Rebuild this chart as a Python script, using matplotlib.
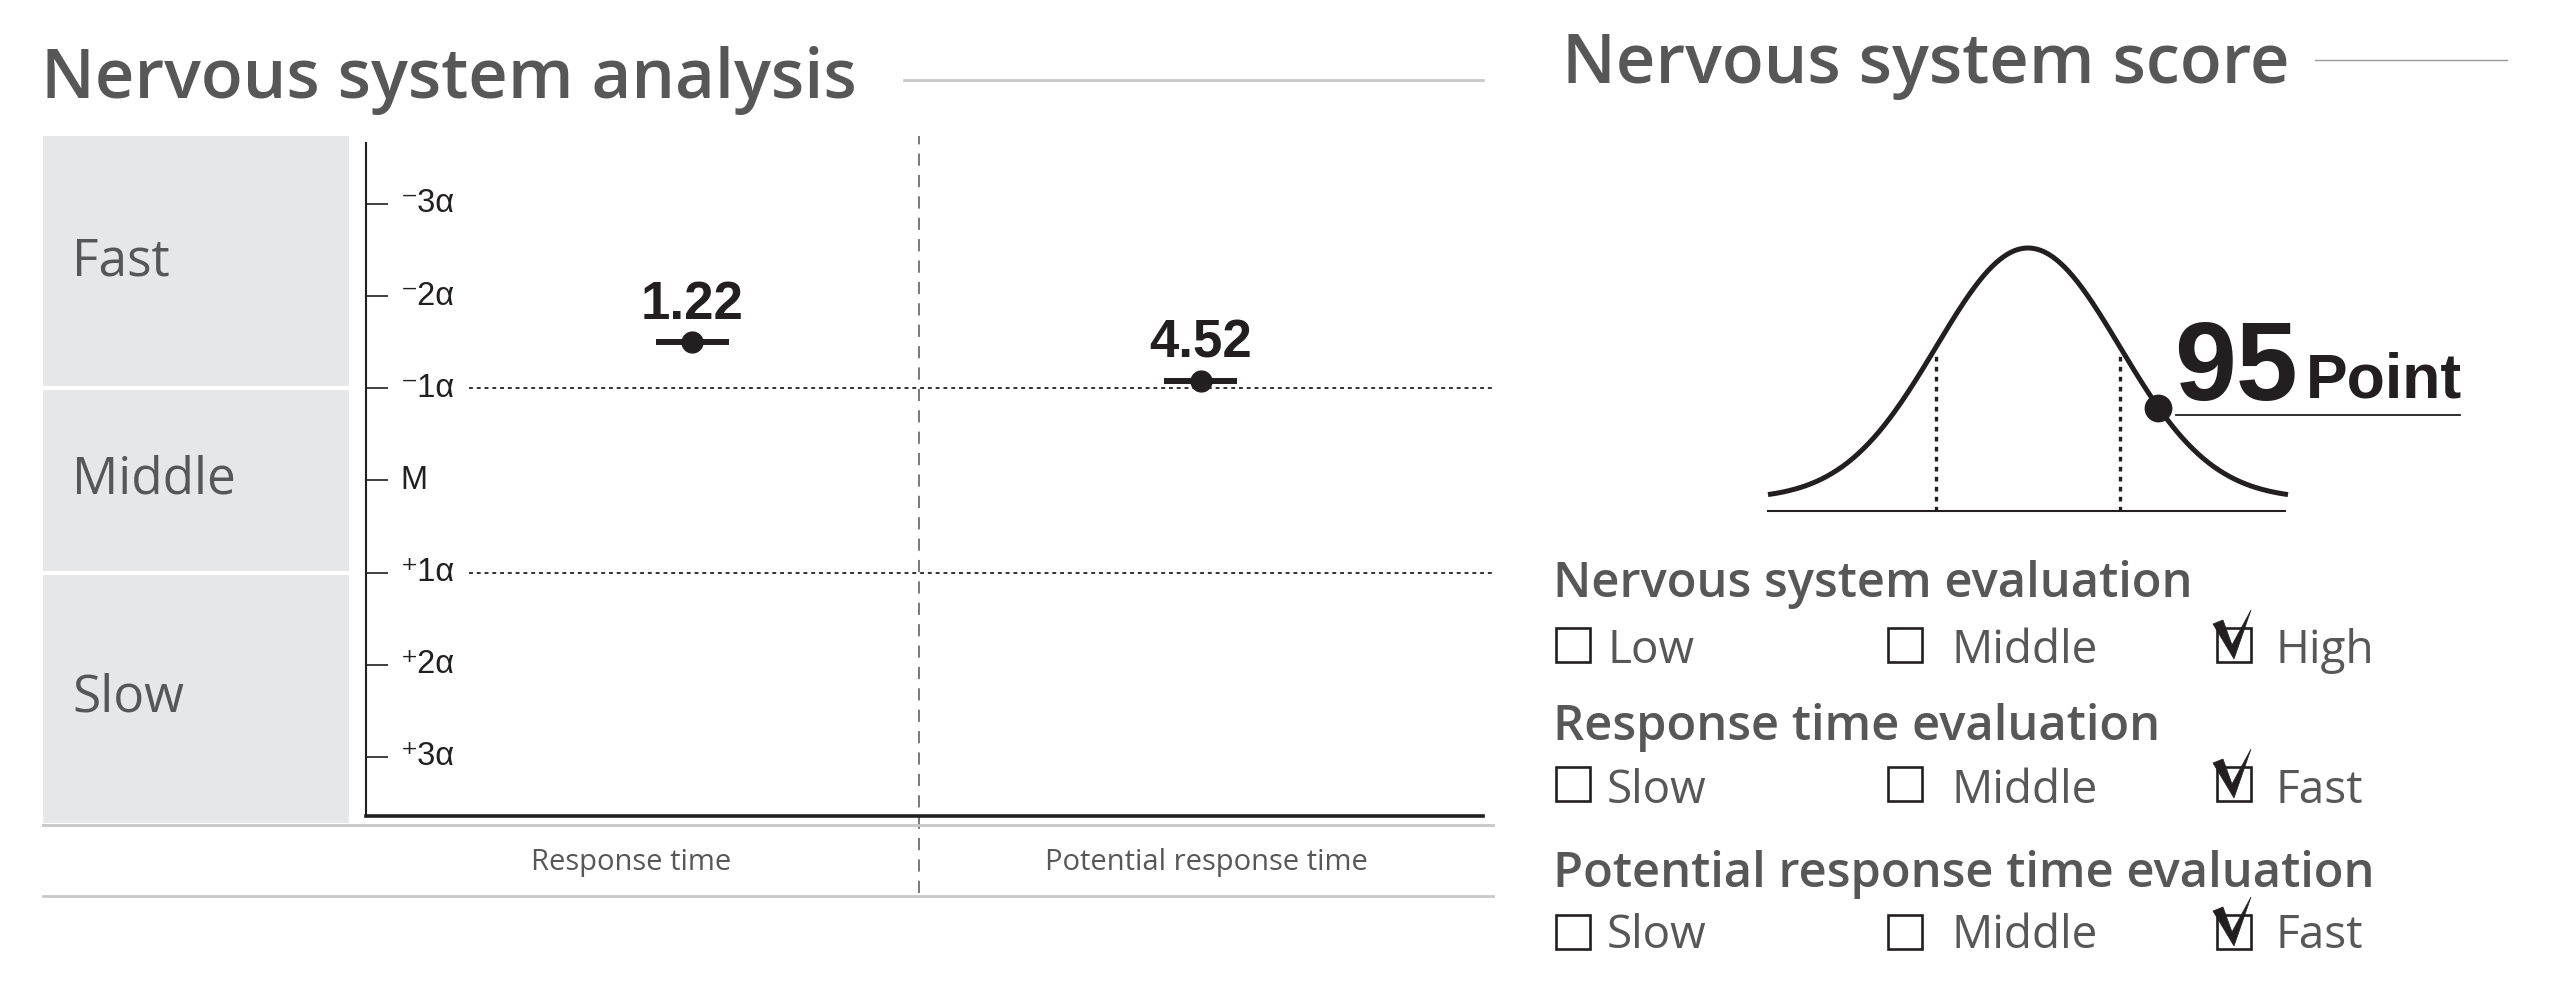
import numpy as np
import matplotlib
matplotlib.use("Agg")
import matplotlib.pyplot as plt
from matplotlib.lines import Line2D
from matplotlib.patches import Rectangle, Polygon
import matplotlib.transforms as mtrans

# ---------------- data ----------------
metric_names = ["Response time", "Potential response time"]
metric_values = [1.22, 4.52]
metric_sigma = [-1.50, -1.08]
sigma_ticks = [-3, -2, -1, 0, 1, 2, 3]
sigma_tick_labels = ["\u207b3\u03b1", "\u207b2\u03b1", "\u207b1\u03b1", "M",
                     "\u207a1\u03b1", "\u207a2\u03b1", "\u207a3\u03b1"]
band_names = ["Fast", "Middle", "Slow"]
band_edges = [-1, 1]
score_value = 95
score_unit = "Point"
score_z = 1.42
eval_titles = ["Nervous system evaluation", "Response time evaluation",
               "Potential response time evaluation"]
eval_options = [["Low", "Middle", "High"], ["Slow", "Middle", "Fast"],
                ["Slow", "Middle", "Fast"]]
eval_checked = [2, 2, 2]

# ---------------- layout helpers ----------------
W, H = 2552, 986
fig = plt.figure(figsize=(W / 100, H / 100), dpi=100)
fig.patch.set_facecolor("white")


def fx(px):
    return px / W


def fy(py):
    return 1 - py / H


GRAY_TXT = "#575757"
INK = "#231f20"
SANS = ["Open Sans", "DejaVu Sans"]
ARIAL = ["Liberation Sans", "DejaVu Sans"]

# ---------------- titles ----------------
fig.text(fx(41), fy(98), "Nervous system analysis", fontsize=49.5, fontweight="semibold",
         color=GRAY_TXT, family=SANS, va="baseline", ha="left")
fig.add_artist(Line2D([fx(904), fx(1483)], [fy(80), fy(80)], color="#c8c8c8", lw=2))
fig.text(fx(1562), fy(83), "Nervous system score", fontsize=49.5, fontweight="semibold",
         color=GRAY_TXT, family=SANS, va="baseline", ha="left")
fig.add_artist(Line2D([fx(2315), fx(2507)], [fy(60), fy(60)], color="#9a9a9a", lw=1))

# ---------------- band column ----------------
lax = fig.add_axes([fx(43), fy(823), (349 - 43) / W, (823 - 136) / H])
lax.set_xlim(0, 1)
lax.set_ylim(3.72, -3.74)
lax.axis("off")
bounds = [-3.74] + band_edges + [3.72]
for i, name in enumerate(band_names):
    lax.axhspan(bounds[i], bounds[i + 1], color="#e6e7e8", lw=0)
    lax.text(0.095, (bounds[i] + bounds[i + 1]) / 2, name, fontsize=37, color=GRAY_TXT,
             family=SANS, va="center", ha="left")
for e in band_edges:
    lax.axhline(e, color="white", lw=3)

# ---------------- main axes ----------------
ax = fig.add_axes([fx(366), fy(816), (1483 - 366) / W, (816 - 143) / H])
ax.set_xlim(0, 2.02)
ax.set_ylim(3.64, -3.66)
ax.patch.set_alpha(0)
for s in ["top", "right"]:
    ax.spines[s].set_visible(False)
ax.spines["left"].set_linewidth(1.5)
ax.spines["left"].set_color(INK)
ax.spines["bottom"].set_linewidth(2.6)
ax.spines["bottom"].set_color(INK)
ax.set_xticks([])
ax.set_yticks(sigma_ticks)
ax.tick_params(axis="y", direction="in", length=16, width=1.2, color=INK, labelleft=False)
ty = mtrans.blended_transform_factory(ax.transAxes, ax.transData)
for t, lab in zip(sigma_ticks, sigma_tick_labels):
    ax.text(0.031, t, lab, transform=ty, fontsize=23.5, family=ARIAL, va="center",
            ha="left", color=INK)

for e in band_edges:
    ax.axhline(e, xmin=0.092, xmax=1.009, color="#333333", lw=1.4, ls=(0, (2, 2)),
               clip_on=False)
ax.axvline(1.0, ymin=-0.114, ymax=1.0104, color="#555555", lw=1.1, ls=(0, (8, 6)),
           clip_on=False)

fig.add_artist(Line2D([fx(43), fx(1493)], [fy(825), fy(825)], color="#c8c8c8", lw=2))
fig.add_artist(Line2D([fx(43), fx(1493)], [fy(896), fy(896)], color="#c8c8c8", lw=2))

metric_x = [0.59, 1.51]
label_x = [0.48, 1.52]
tx = mtrans.blended_transform_factory(ax.transData, ax.transAxes)
for xl, name in zip(label_x, metric_names):
    ax.text(xl, -0.0698, name, transform=tx, fontsize=21, color=GRAY_TXT, family=SANS,
            ha="center", va="center", clip_on=False)

ax.errorbar(metric_x, metric_sigma, xerr=0.066, fmt="o", color=INK, ms=15,
            elinewidth=4.3, capsize=0)
for xm, s, v in zip(metric_x, metric_sigma, metric_values):
    ax.annotate(f"{v:.2f}", (xm, s), xytext=(0, 16.6), textcoords="offset points",
                ha="center", va="baseline", fontsize=38, fontweight="bold",
                family=ARIAL, color=INK)

# ---------------- bell curve ----------------
bax = fig.add_axes([fx(1768), fy(511), 520 / W, (511 - 248) / H])
bax.set_xlim(-2.83, 2.83)
bax.set_ylim(0, 1)
bax.axis("off")
floor = 0.045
zz = np.linspace(-2.83, 2.83, 400)
curve = floor + (1 - floor) * np.exp(-zz ** 2 / 2)
bax.plot(zz, curve, color=INK, lw=3.6, clip_on=False, solid_capstyle="butt")
bax.plot([-2.83, 2.80], [0, 0], color=INK, lw=1.5, clip_on=False)
for zline in [-1, 1]:
    top = floor + (1 - floor) * np.exp(-zline ** 2 / 2)
    bax.plot([zline, zline], [0, top - 0.02], color=INK, lw=2.4, ls=(0, (1.4, 1.6)),
             clip_on=False)
sy = floor + (1 - floor) * np.exp(-score_z ** 2 / 2)
bax.plot([score_z], [sy], "o", color=INK, ms=19, clip_on=False)

fig.text(fx(2174), fy(400), f"{score_value}", fontsize=80, fontweight="bold", family=ARIAL,
         color=INK, ha="left", va="baseline")
fig.text(fx(2306), fy(398), score_unit, fontsize=45, fontweight="bold", family=ARIAL,
         color=INK, ha="left", va="baseline")
fig.add_artist(Line2D([fx(2176), fx(2460)], [fy(415), fy(415)], color=INK, lw=1.3))

# ---------------- evaluation checkboxes ----------------
head_base = [597, 740, 887]
box_top = [628, 767, 915]
opt_base = [663, 803, 948]
box_x = [1556, 1888, 2217]
txt_x = [1607, 1951, 2275]
BOX = 34
for i, title in enumerate(eval_titles):
    fig.text(fx(1553), fy(head_base[i]), title, fontsize=35.2, fontweight="semibold",
             color=GRAY_TXT, family=SANS, ha="left", va="baseline")
    for j, opt in enumerate(eval_options[i]):
        bx, bt = box_x[j], box_top[i]
        fig.add_artist(Rectangle((fx(bx), fy(bt + BOX)), BOX / W, BOX / H,
                                 transform=fig.transFigure, fill=False, ec=INK, lw=1.9))
        fig.text(fx(txt_x[j]), fy(opt_base[i]), opt, fontsize=33, color=GRAY_TXT,
                 family=SANS, ha="left", va="baseline")
        if j == eval_checked[i]:
            pts = [(-4, -4), (6, -8), (15, 17), (34, -18), (17, 31)]
            fig.add_artist(Polygon([(fx(bx + dx), fy(bt + dy)) for dx, dy in pts],
                                   closed=True, transform=fig.transFigure,
                                   fc=INK, ec=INK, lw=0.5))

fig.savefig("out.png", dpi=100, facecolor="white")
